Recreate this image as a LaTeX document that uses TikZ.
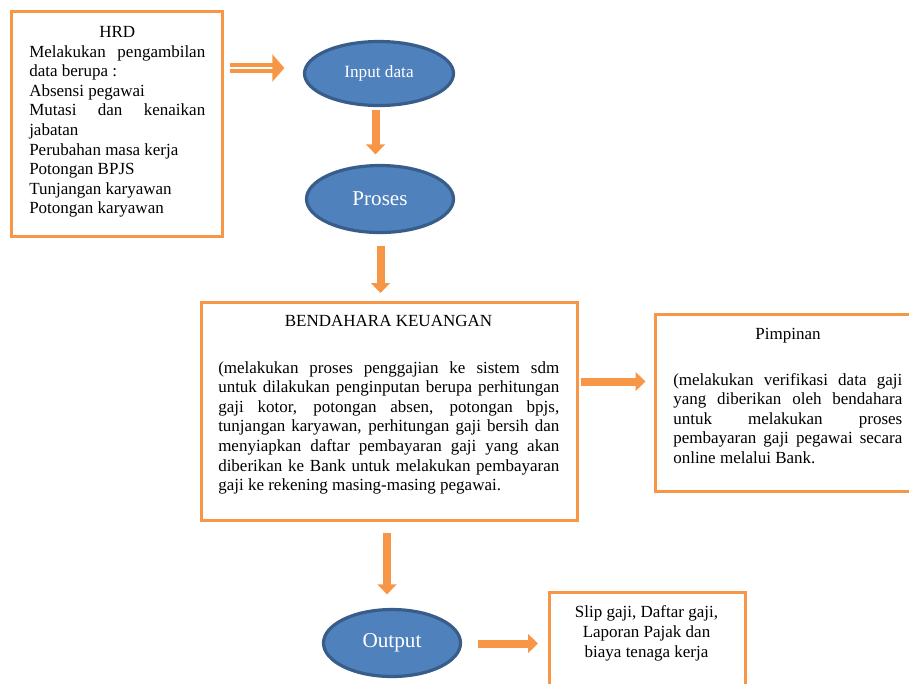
\documentclass[tikz,border=0pt]{standalone}
\usepackage{fontspec}
\setmainfont{Liberation Serif}
\usetikzlibrary{shapes.geometric,arrows.meta}
\setlength{\parindent}{0pt}
\hyphenpenalty=10000

\tikzset{
    box/.style={rectangle, draw={rgb, 255:red, 247; green, 150; blue, 70}, line width=2.25pt, inner sep=0pt},
    oval/.style={ellipse, draw={rgb, 255:red, 56; green, 93; blue, 138}, fill={rgb, 255:red, 79; green, 129; blue, 189}, line width=2.4pt, text=white, inner sep=0pt},
    flow/.style={draw={rgb, 255:red, 247; green, 150; blue, 70}, line width=6pt, -{Triangle[length=7.5pt,width=14pt]}},
    hollow/.style={draw={rgb, 255:red, 247; green, 150; blue, 70}, line width=2.7pt, double=white, double distance=2pt, -{Triangle[length=9pt,width=20pt]}},
    txt/.style={font=\fontsize{12.75}{14.7}\selectfont, inner sep=0pt},
}

\begin{document}
\begin{tikzpicture}[x=0.75pt,y=-0.75pt]
        \useasboundingbox (0,0) rectangle (909,683);
        \clip (0,0) rectangle (909,683);

        %Shape: Rectangle [HRD]
        \node[box, minimum width=158.25pt, minimum height=168.75pt] (hrd) at (117,124) {};
        % Text Node
        \node[txt, text width=132pt, align=justify, anchor=base west] (hrd text) at (29,37.5) {{\centering HRD\par}Melakukan pengambilan\linebreak data berupa :\par Absensi pegawai\par Mutasi dan kenaikan\linebreak jabatan\par Perubahan masa kerja\par Potongan BPJS\par Tunjangan karyawan\par Potongan karyawan};

        %Shape: Ellipse
        \node[oval, minimum width=111.75pt, minimum height=48pt, font=\fontsize{12.9}{15}\selectfont] (input) at (379,73.5) {Input data};
        %Shape: Ellipse
        \node[oval, minimum width=110.25pt, minimum height=50.25pt, font=\fontsize{15.8}{18}\selectfont] (proses) at (380,199) {Proses};

        %Shape: Rectangle [bendahara]
        \node[box, minimum width=282pt, minimum height=163.5pt] (bendahara) at (389,411) {};
        % Text Node
        \node[txt, anchor=base] (bendahara title) at (388.5,326) {BENDAHARA KEUANGAN};
        % Text Node
        \node[txt, text width=255.75pt, align=justify, anchor=base west] (bendahara text) at (218,373) {(melakukan proses penggajian ke sistem sdm\linebreak untuk dilakukan penginputan berupa perhitungan\linebreak gaji kotor, potongan absen, potongan bpjs,\linebreak tunjangan karyawan, perhitungan gaji bersih dan\linebreak menyiapkan daftar pembayaran gaji yang akan\linebreak diberikan ke Bank untuk melakukan pembayaran\linebreak gaji ke rekening masing-masing pegawai.};

        %Shape: Rectangle [pimpinan]
        \node[box, minimum width=199.5pt, minimum height=132.75pt] (pimpinan) at (788,403) {};
        % Text Node
        \node[txt, anchor=base] (pimpinan title) at (788,339) {Pimpinan};
        % Text Node
        \node[txt, text width=171.75pt, align=justify, anchor=base west] (pimpinan text) at (673,385) {(melakukan verifikasi data gaji\linebreak yang diberikan oleh bendahara\linebreak untuk melakukan proses\linebreak pembayaran gaji pegawai secara\linebreak online melalui Bank.};

        %Shape: Ellipse
        \node[oval, minimum width=102.75pt, minimum height=50.25pt, font=\fontsize{15.9}{18}\selectfont] (output) at (392,643) {Output};

        %Shape: Rectangle [laporan]
        \node[box, minimum width=147pt, minimum height=80.25pt] (laporan) at (647.5,646) {};
        % Text Node
        \node[txt, align=center, anchor=base] (laporan text) at (646.5,657) {Slip gaji, Daftar gaji,\\ Laporan Pajak dan\\ biaya tenaga kerja};

        %Straight Lines
        \draw[hollow] ([shift={(6,-56)}]hrd.east) -- ([shift={(-18.5,-5.5)}]input.west);
        \draw[flow] ([shift={(-3.5,2.5)}]input.south) -- ([shift={(-4.5,-9.5)}]proses.north);
        \draw[flow] ([shift={(0.5,12)}]proses.south) -- ([shift={(-8.5,-7.5)}]bendahara.north);
        \draw[flow] ([shift={(2.5,-29.5)}]bendahara.east) -- ([shift={(-8,-21.5)}]pimpinan.west);
        \draw[flow] ([shift={(-2,11.5)}]bendahara.south) -- ([shift={(-5,-13.5)}]output.north);
        \draw[flow] ([shift={(15.5,0.5)}]output.east) -- ([shift={(-10,-2.5)}]laporan.west);

\end{tikzpicture}
\end{document}
